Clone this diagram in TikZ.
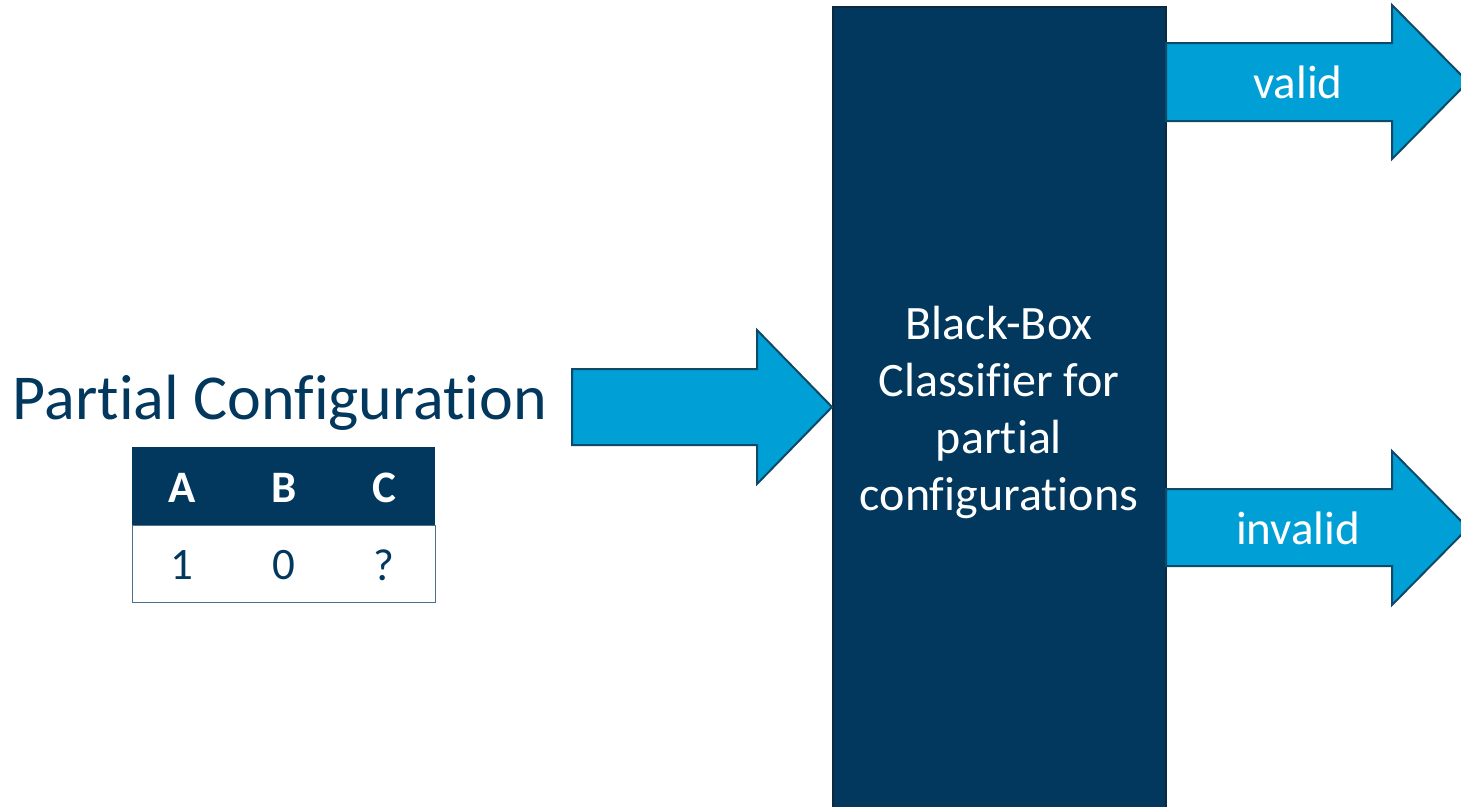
\documentclass[tikz,border=0pt]{standalone}
\usepackage{fontspec}
\setmainfont{Carlito}[Ligatures=NoCommon]
\definecolor{navy}{HTML}{02385E}
\definecolor{navyedge}{HTML}{0B2A42}
\definecolor{sky}{HTML}{009FD6}
\definecolor{skyedge}{HTML}{0E4A68}
\definecolor{tableedge}{HTML}{4D6F8E}
\tikzset{
  fatarrow/.style={fill=sky, draw=skyedge, line width=2pt, line join=miter},
  arrowlabel/.style={text=white, font=\fontsize{47}{56}\selectfont, inner sep=0pt},
  headcell/.style={text=white, font=\fontsize{45}{54}\selectfont\bfseries, inner sep=0pt},
  bodycell/.style={text=navy, font=\fontsize{45}{54}\selectfont, inner sep=0pt},
}
\begin{document}
\begin{tikzpicture}[x=1pt,y=-1pt]
\useasboundingbox (0,0) rectangle (1461,806);
\clip (0,0) rectangle (1461,806);
\fill[white] (0,0) rectangle (1461,806);

% classifier block
\node[draw=navyedge, fill=navy, line width=2pt, minimum width=333pt, minimum height=820pt,
      anchor=north west, inner sep=0pt] (box) at (832,6) {};
\node[text=white, align=center, font=\fontsize{48}{57}\selectfont, inner sep=0pt] (boxtext) at (999,412)
  {Black-Box\\Classifier for\\partial\\configurations};

% input arrow
\draw[fatarrow] (572,369) -- (757,369) -- (757,330) -- (832,407) -- (757,484) -- (757,445) -- (572,445) -- cycle;

% output arrows
\draw[fatarrow] (1166,43) -- (1392,43) -- (1392,5) -- (1468,82) -- (1392,159) -- (1392,121) -- (1166,121) -- cycle;
\node[arrowlabel] (valid) at (1298,82) {valid};
\draw[fatarrow] (1166,489) -- (1392,489) -- (1392,451) -- (1468,528) -- (1392,605) -- (1392,566) -- (1166,566) -- cycle;
\node[arrowlabel] (invalid) at (1298,528) {invalid};

% partial configuration label
\node[text=navy, font=\fontsize{64}{76}\selectfont, inner sep=0pt] (title) at (280,403) {Partial Configuration};

% table
\node[fill=navy, minimum width=303pt, minimum height=78pt, inner sep=0pt, anchor=north west] (thead) at (132,447) {};
\node[draw=tableedge, line width=1.2pt, minimum width=303pt, minimum height=77pt, inner sep=0pt, anchor=north west] (tbody) at (132,525) {};
\node[headcell] (ha) at (182,488) {A};
\node[headcell] (hb) at (284,488) {B};
\node[headcell] (hc) at (384,488) {C};
\node[bodycell] (va) at (182,565) {1};
\node[bodycell] (vb) at (284,565) {0};
\node[bodycell] (vc) at (384,565) {?};
\end{tikzpicture}
\end{document}
